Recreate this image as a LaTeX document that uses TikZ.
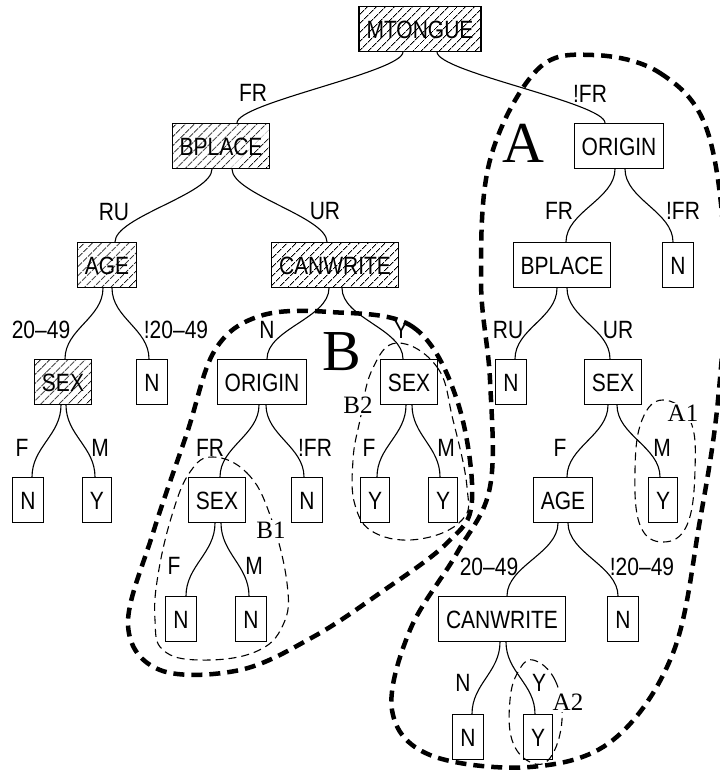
\documentclass[tikz,border=0pt]{standalone}
\usepackage{fontspec}
\setmainfont{Liberation Serif}
\newfontfamily\labfont{Liberation Sans}[FakeStretch=0.84]
\usetikzlibrary{patterns.meta}

\begin{document}
\begin{tikzpicture}[x=1pt,y=-1pt,
  box/.style={draw, line width=1.1pt, font=\labfont\fontsize{25}{25}\selectfont,
    inner xsep=7.5pt, inner ysep=0pt, minimum height=45pt, text height=18pt, text depth=0pt},
  hatched/.style={box, pattern={Lines[angle=45,distance=6.5pt,line width=0.85pt]}},
  elab/.style={font=\labfont\fontsize{25}{25}\selectfont, inner sep=0pt, text height=18pt, text depth=0pt},
  link/.style={line width=1.1pt},
  region/.style={line width=4.5pt, dash pattern=on 11pt off 7pt},
  subregion/.style={line width=1.1pt, dash pattern=on 8pt off 5pt},
  tag/.style={font=\fontsize{25}{25}\selectfont, fill=white, inner sep=1.5pt},
  bigtag/.style={font=\fontsize{58}{58}\selectfont, inner sep=0pt}
]
\useasboundingbox (0,0) rectangle (720,774);
\clip (0,0) rectangle (720,774);

% ---- regions (drawn first, under everything else) ----
\draw[region] plot[smooth cycle, tension=0.6] coordinates {
  (593,55) (660,73) (707,130) (725,260) (718,400) (700,520) (673,653) (613,740)
  (530,767) (430,755) (392,710) (410,630) (457,553) (490,487) (490,380)
  (481,280) (490,160) (537,70)};
\draw[region] plot[smooth cycle, tension=0.6] coordinates {
  (330,312) (413,327) (457,400) (472,500) (447,543) (380,593) (313,637)
  (240,670) (160,670) (128,625) (153,533) (187,433) (215,350) (260,316)};
\draw[subregion] plot[smooth cycle, tension=0.7] coordinates {
  (213,457) (247,473) (270,515) (287,583) (283,625) (255,652) (200,660)
  (163,650) (155,620) (158,575) (172,515) (190,472)};
\draw[subregion] plot[smooth cycle, tension=0.7] coordinates {
  (397,343) (437,367) (453,420) (467,487) (462,520) (420,539) (375,533)
  (355,505) (353,460) (360,420) (372,370)};
\draw[subregion] plot[smooth cycle, tension=0.7] coordinates {
  (663,400) (690,420) (695,470) (687,525) (663,542) (640,525) (635,470) (642,420)};
\draw[subregion] plot[smooth cycle, tension=0.7] coordinates {
  (533,660) (555,680) (562,720) (550,758) (530,762) (512,740) (510,700) (518,672)};

% ---- tree nodes ----
\node[hatched] (mt)   at (420,29)  {MTONGUE};
\node[hatched] (bpa)  at (221,146) {BPLACE};
\node[hatched] (agea) at (107,265) {AGE};
\node[hatched] (cwa)  at (335,265) {CANWRITE};
\node[hatched] (sexa) at (63,382)  {SEX};
\node[box] (na)   at (152,382) {N};
\node[box] (nb)   at (28,500)  {N};
\node[box] (ya)   at (97,500)  {Y};
\node[box] (orb)  at (262,382) {ORIGIN};
\node[box] (sexb) at (409,382) {SEX};
\node[box] (sexc) at (217,500) {SEX};
\node[box] (nc)   at (307,500) {N};
\node[box] (yb)   at (375,500) {Y};
\node[box] (yc)   at (443,500) {Y};
\node[box] (nd)   at (181,619) {N};
\node[box] (ne)   at (251,619) {N};
\node[box] (ora)  at (619,146) {ORIGIN};
\node[box] (bpb)  at (562,265) {BPLACE};
\node[box] (nf)   at (678,265) {N};
\node[box] (ng)   at (511,382) {N};
\node[box] (sexd) at (613,382) {SEX};
\node[box] (ageb) at (563,500) {AGE};
\node[box] (yd)   at (663,500) {Y};
\node[box] (cwb)  at (502,619) {CANWRITE};
\node[box] (nh)   at (623,619) {N};
\node[box] (ni)   at (468,737) {N};
\node[box] (ye)   at (538,737) {Y};

% ---- branches ----
\draw[link] ([xshift=-17pt]mt.south) .. controls +(0,20) and +(0,-20) .. ([xshift=16pt]bpa.north);
\draw[link] ([xshift=17pt]mt.south) .. controls +(0,20) and +(0,-20) .. ([xshift=-14pt]ora.north);
\draw[link] ([xshift=-9pt]bpa.south) .. controls +(0,25) and +(0,-25) .. ([xshift=8pt]agea.north);
\draw[link] ([xshift=11pt]bpa.south) .. controls +(0,25) and +(0,-25) .. ([xshift=-8pt]cwa.north);
\draw[link] ([xshift=-4pt]agea.south) .. controls +(0,30) and +(0,-30) .. ([xshift=2pt]sexa.north);
\draw[link] ([xshift=5pt]agea.south) .. controls +(0,30) and +(0,-30) .. ([xshift=-3pt]na.north);
\draw[link] ([xshift=-2pt]sexa.south) .. controls +(0,30) and +(0,-30) .. ([xshift=4pt]nb.north);
\draw[link] ([xshift=3pt]sexa.south) .. controls +(0,30) and +(0,-30) .. ([xshift=-2pt]ya.north);
\draw[link] ([xshift=-6pt]cwa.south) .. controls +(0,30) and +(0,-30) .. ([xshift=5pt]orb.north);
\draw[link] ([xshift=7pt]cwa.south) .. controls +(0,30) and +(0,-30) .. ([xshift=-6pt]sexb.north);
\draw[link] ([xshift=-3pt]orb.south) .. controls +(0,30) and +(0,-30) .. ([xshift=3pt]sexc.north);
\draw[link] ([xshift=4pt]orb.south) .. controls +(0,30) and +(0,-30) .. ([xshift=-3pt]nc.north);
\draw[link] ([xshift=-2pt]sexc.south) .. controls +(0,30) and +(0,-30) .. ([xshift=5pt]nd.north);
\draw[link] ([xshift=4pt]sexc.south) .. controls +(0,30) and +(0,-30) .. ([xshift=-2pt]ne.north);
\draw[link] ([xshift=-3pt]sexb.south) .. controls +(0,30) and +(0,-30) .. ([xshift=2pt]yb.north);
\draw[link] ([xshift=3pt]sexb.south) .. controls +(0,30) and +(0,-30) .. ([xshift=-3pt]yc.north);
\draw[link] ([xshift=-4pt]ora.south) .. controls +(0,30) and +(0,-30) .. ([xshift=4pt]bpb.north);
\draw[link] ([xshift=6pt]ora.south) .. controls +(0,30) and +(0,-30) .. ([xshift=-5pt]nf.north);
\draw[link] ([xshift=-5pt]bpb.south) .. controls +(0,30) and +(0,-30) .. ([xshift=4pt]ng.north);
\draw[link] ([xshift=5pt]bpb.south) .. controls +(0,30) and +(0,-30) .. ([xshift=-3pt]sexd.north);
\draw[link] ([xshift=-5pt]sexd.south) .. controls +(0,30) and +(0,-30) .. ([xshift=4pt]ageb.north);
\draw[link] ([xshift=4pt]sexd.south) .. controls +(0,30) and +(0,-30) .. ([xshift=-3pt]yd.north);
\draw[link] ([xshift=-5pt]ageb.south) .. controls +(0,30) and +(0,-30) .. ([xshift=5pt]cwb.north);
\draw[link] ([xshift=5pt]ageb.south) .. controls +(0,30) and +(0,-30) .. ([xshift=-5pt]nh.north);
\draw[link] ([xshift=-2pt]cwb.south) .. controls +(0,30) and +(0,-30) .. ([xshift=4pt]ni.north);
\draw[link] ([xshift=4pt]cwb.south) .. controls +(0,30) and +(0,-30) .. ([xshift=-3pt]ye.north);

% ---- branch labels ----
\node[elab] (l1)  at (253,92)  {FR};
\node[elab] (l2)  at (590,93)  {!FR};
\node[elab] (l3)  at (114,211) {RU};
\node[elab] (l4)  at (325,210) {UR};
\node[elab] (l5)  at (41,329)  {20\textendash49};
\node[elab] (l6)  at (176,329) {!20\textendash49};
\node[elab] (l7)  at (22,447)  {F};
\node[elab] (l8)  at (100,447) {M};
\node[elab] (l9)  at (267,329) {N};
\node[elab] (l10) at (401,329) {Y};
\node[elab] (l11) at (210,447) {FR};
\node[elab] (l12) at (315,447) {!FR};
\node[elab] (l13) at (369,447) {F};
\node[elab] (l14) at (446,447) {M};
\node[elab] (l15) at (174,565) {F};
\node[elab] (l16) at (254,565) {M};
\node[elab] (l17) at (559,210) {FR};
\node[elab] (l18) at (683,210) {!FR};
\node[elab] (l19) at (508,329) {RU};
\node[elab] (l20) at (618,329) {UR};
\node[elab] (l21) at (560,447) {F};
\node[elab] (l22) at (662,447) {M};
\node[elab] (l23) at (489,566) {20\textendash49};
\node[elab] (l24) at (642,566) {!20\textendash49};
\node[elab] (l25) at (463,682) {N};
\node[elab] (l26) at (539,682) {Y};

% ---- region names ----
\node[bigtag] (ra) at (523,143) {A};
\node[bigtag] (rb) at (342,352) {B};
\node[tag] (ra1) at (683,413) {A1};
\node[tag] (ra2) at (568,702) {A2};
\node[tag] (rb1) at (271,530) {B1};
\node[tag] (rb2) at (358,405) {B2};
\end{tikzpicture}
\end{document}
